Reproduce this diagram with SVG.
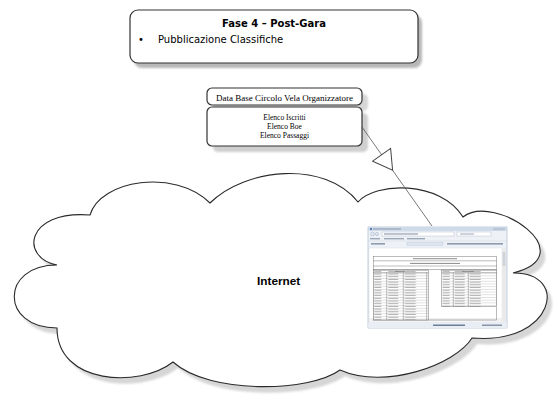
<svg xmlns="http://www.w3.org/2000/svg" width="560" height="413" viewBox="0 0 560 413">
<style>
.box{fill:#fff;stroke:#333;stroke-width:1.2}
.sh{fill:#b8b8b8;filter:url(#blur)}
.csh{fill:#d6d6d6;filter:url(#blur)}
.cloud{fill:#fff;stroke:#2a2a2a;stroke-width:1.1}
.t-title{font-family:"DejaVu Sans",Verdana,sans-serif;font-weight:bold;font-size:10px;fill:#000}
.t-body{font-family:"DejaVu Sans",Verdana,sans-serif;font-size:10px;fill:#000}
.t-serif{font-family:"Liberation Serif","Times New Roman",serif;fill:#000}
.t-net{font-family:"Liberation Sans",Arial,sans-serif;font-weight:bold;font-size:11.8px;fill:#000}
.conn{fill:none;stroke:#555;stroke-width:0.8}
.gl{stroke:#555;stroke-width:0.4;fill:none}
.tx{fill:#8a8a8a}
</style>
<defs>
<filter id="blur" x="-10%" y="-10%" width="120%" height="120%"><feGaussianBlur stdDeviation="1.2"/></filter>
<marker id="tri" viewBox="-1 -1 21 24" refX="19" refY="11" markerWidth="21" markerHeight="24" markerUnits="userSpaceOnUse" orient="auto">
<path d="M0,0 L19,11 L0,22 Z" fill="#fff" stroke="#444" stroke-width="1"/>
</marker>
<path id="cloudPath" d="M90,215 C100,180 175,168 210,203 C245,168 325,160 358,202 C375,182 440,180 463,217 C495,192 585,255 513,273 C570,272 555,345 472,338 C455,365 385,390 340,370 C310,392 210,395 173,362 C140,388 57,385 57,328 C0,328 0,265 57,265 C20,258 25,210 90,215 Z"/>
<pattern id="rowsL" x="373.3" y="275.4" width="55" height="2.7" patternUnits="userSpaceOnUse">
<rect width="55" height="2.7" fill="#fff"/>
<line x1="0" y1="0.15" x2="55" y2="0.15" stroke="#666" stroke-width="0.3"/>
<rect x="1" y="1" width="7" height="0.7" fill="#9a9a9a"/>
<rect x="15" y="1" width="10" height="0.7" fill="#9a9a9a"/>
<rect x="31.5" y="1" width="11" height="0.7" fill="#9a9a9a"/>
</pattern>
<pattern id="rowsR" x="441.7" y="275.4" width="55" height="2.7" patternUnits="userSpaceOnUse">
<rect width="55" height="2.7" fill="#fff"/>
<line x1="0" y1="0.15" x2="55" y2="0.15" stroke="#666" stroke-width="0.3"/>
<rect x="1" y="1" width="7" height="0.7" fill="#9a9a9a"/>
<rect x="13" y="1" width="10" height="0.7" fill="#9a9a9a"/>
<rect x="28" y="1" width="11" height="0.7" fill="#9a9a9a"/>
</pattern>
</defs>

<g id="fase4">
<rect x="134" y="15" width="288" height="53" rx="8" class="sh"/>
<rect x="130" y="10" width="288" height="53" rx="8" class="box"/>
<text x="274" y="27" text-anchor="middle" class="t-title">Fase 4 – Post-Gara</text>
<text x="138" y="43" class="t-body">•</text>
<text x="158" y="43" class="t-body">Pubblicazione Classifiche</text>
</g>

<g id="database">
<rect x="213" y="94" width="155" height="17" rx="5" class="csh"/>
<rect x="213" y="113" width="155" height="39" rx="5" class="sh" style="fill:#cfcfcf"/>
<rect x="207" y="88" width="155" height="17" rx="5" class="box"/>
<rect x="207" y="107" width="155" height="39" rx="5" class="box"/>
<text x="284.5" y="100.5" text-anchor="middle" class="t-serif" font-size="9">Data Base Circolo Vela Organizzatore</text>
<text x="284.5" y="120" text-anchor="middle" class="t-serif" font-size="7.5">Elenco Iscritti</text>
<text x="284.5" y="129" text-anchor="middle" class="t-serif" font-size="7.5">Elenco Boe</text>
<text x="284.5" y="138" text-anchor="middle" class="t-serif" font-size="7.5">Elenco Passaggi</text>
</g>

<g id="internet">
<use href="#cloudPath" class="csh" transform="translate(5,6)"/>
<use href="#cloudPath" class="cloud"/>
<text x="257" y="285" class="t-net">Internet</text>
</g>

<g id="connectors">
<path d="M362,127 L392.6,170.3 L432,226" class="conn" marker-mid="url(#tri)"/>
</g>

<g id="screenshot">
<rect x="368" y="227" width="139" height="101" fill="#eef2f7" stroke="#9fb0c4" stroke-width="0.6"/>
<rect x="368.3" y="227.3" width="138.4" height="3.6" fill="#cddaea"/>
<rect x="370" y="228" width="2" height="2" fill="#5a7fb0"/>
<rect x="373" y="228.5" width="28" height="1" fill="#8a98aa"/>
<rect x="493" y="227.8" width="12" height="2.4" fill="#b9c6d6"/>
<circle cx="372.5" cy="234" r="2" fill="#dfe7f1" stroke="#8aa0bc" stroke-width="0.4"/>
<circle cx="377" cy="234" r="1.6" fill="#dfe7f1" stroke="#8aa0bc" stroke-width="0.4"/>
<rect x="382" y="232" width="72" height="4" fill="#fff" stroke="#a9b6c8" stroke-width="0.4"/>
<rect x="384" y="233.5" width="34" height="1" fill="#7a8aa0"/>
<rect x="457" y="232" width="34" height="4" fill="#fff" stroke="#a9b6c8" stroke-width="0.4"/>
<rect x="460" y="233.5" width="14" height="1" fill="#9aa8ba"/>
<rect x="370" y="238" width="10" height="1.4" fill="#9aa8ba"/>
<rect x="384" y="238" width="20" height="1.4" fill="#9aa8ba"/>
<rect x="407" y="238" width="18" height="1.4" fill="#9aa8ba"/>
<line x1="368.3" y1="241" x2="506.7" y2="241" stroke="#c5d0dd" stroke-width="0.4"/>
<rect x="371" y="243" width="14" height="1.6" fill="#8d9bb0"/>
<rect x="407" y="242.4" width="36" height="3" fill="#dde6f1" stroke="#a9b6c8" stroke-width="0.3"/>
<rect x="447" y="243" width="56" height="1.6" fill="#8d9bb0"/>
<rect x="369" y="248" width="133" height="74" fill="#fff" stroke="#c7d0da" stroke-width="0.3"/>
<rect x="502" y="248" width="4" height="74" fill="#eaeaea"/>
<rect x="502.5" y="252" width="3" height="14" fill="#cfd4da"/>
<rect x="369" y="318" width="133" height="3.5" fill="#f0f0f0"/>
<rect x="368.3" y="322.5" width="138.4" height="5.5" fill="#e9eef4"/>
<rect x="433" y="324.5" width="32" height="1.5" fill="#6b7f99"/>
<rect x="482" y="324.5" width="20" height="1.5" fill="#8896a8"/>
<rect x="373.3" y="256.7" width="123.4" height="63.3" class="gl"/>
<line x1="373.3" y1="260.8" x2="496.7" y2="260.8" class="gl"/>
<line x1="373.3" y1="266" x2="496.7" y2="266" class="gl"/>
<line x1="373.3" y1="269.5" x2="496.7" y2="269.5" class="gl"/>
<rect x="413" y="258.2" width="44" height="1" class="tx"/>
<rect x="410" y="262.9" width="50" height="1" class="tx"/>
<rect x="373.3" y="270" width="55" height="50" fill="url(#rowsL)" stroke="#555" stroke-width="0.4"/>
<line x1="373.3" y1="272.7" x2="428.3" y2="272.7" class="gl"/>
<rect x="395" y="271" width="10" height="0.9" class="tx"/>
<line x1="386.7" y1="272.7" x2="386.7" y2="320" class="gl"/>
<line x1="403.3" y1="272.7" x2="403.3" y2="320" class="gl"/>
<line x1="426.7" y1="272.7" x2="426.7" y2="320" class="gl"/>
<rect x="441.7" y="270" width="55" height="36.7" fill="url(#rowsR)" stroke="#555" stroke-width="0.4"/>
<line x1="441.7" y1="272.7" x2="496.7" y2="272.7" class="gl"/>
<rect x="462" y="271" width="12" height="0.9" class="tx"/>
<line x1="453.3" y1="272.7" x2="453.3" y2="306.7" class="gl"/>
<line x1="468.3" y1="272.7" x2="468.3" y2="306.7" class="gl"/>
</g>
</svg>
